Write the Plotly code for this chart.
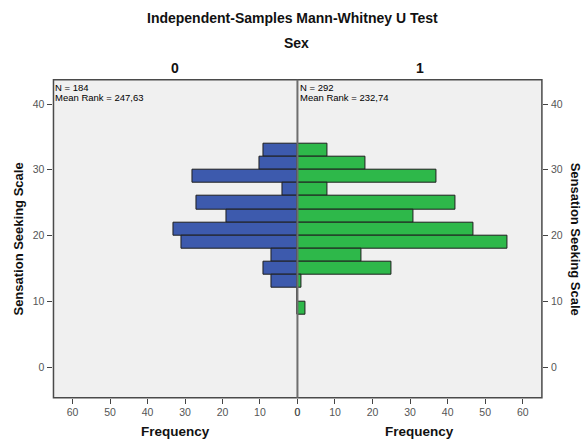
import plotly.graph_objects as go

# Bin centres of Sensation Seeking Scale (bin width 2)
bin_centers = [33, 31, 29, 27, 25, 23, 21, 19, 17, 15, 13, 11, 9]
freq_sex0 = [9, 10, 28, 4, 27, 19, 33, 31, 7, 9, 7, 0, 0]
freq_sex1 = [8, 18, 37, 8, 42, 31, 47, 56, 17, 25, 1, 0, 2]
bin_width = 2
x_ticks = [0, 10, 20, 30, 40, 50, 60]
y_ticks = [0, 10, 20, 30, 40]
group_labels = ["0", "1"]
group_n = ["N = 184", "N = 292"]
group_rank = ["Mean Rank = 247,63", "Mean Rank = 232,74"]

W, H = 584, 439
def px(x): return x / W
def py(y): return 1 - y / H

L, C, R = 51, 297.5, 544.5
T, B = 79.7, 397.7

FONT = "Liberation Sans, Arial, sans-serif"
BLUE = "#3D5AAD"
GREEN = "#2EB84A"

fig = go.Figure()
fig.add_trace(go.Bar(
    y=bin_centers, x=freq_sex0, orientation="h", width=bin_width,
    marker=dict(color=BLUE, line=dict(color="#1e1e1e", width=1)),
    xaxis="x", yaxis="y", showlegend=False))
fig.add_trace(go.Bar(
    y=bin_centers, x=freq_sex1, orientation="h", width=bin_width,
    marker=dict(color=GREEN, line=dict(color="#1e1e1e", width=1)),
    xaxis="x2", yaxis="y2", showlegend=False))

tickfont = dict(family=FONT, size=10.5, color="#555555")
xcommon = dict(range=[0, 65.1], tickvals=x_ticks, ticks="outside", ticklen=5,
               tickcolor="#444444", tickwidth=1, showgrid=False, zeroline=False,
               showline=False, tickfont=tickfont, fixedrange=True)
ycommon = dict(range=[-4.67, 43.7], tickvals=y_ticks, ticks="outside", ticklen=5,
               tickcolor="#444444", tickwidth=1, showgrid=False, zeroline=False,
               showline=False, tickfont=tickfont, domain=[py(B), py(T)], ticklabelstandoff=1)

fig.update_layout(
    width=W, height=H, autosize=False,
    margin=dict(l=0, r=0, t=0, b=0),
    paper_bgcolor="white", plot_bgcolor="#F0F0F0",
    bargap=0,
    xaxis=dict(domain=[px(L), px(C)], autorange=False, **{**xcommon, "range": [65.1, 0]}),
    xaxis2=dict(domain=[px(C), px(R)], anchor="y2", **xcommon),
    yaxis=dict(anchor="x", side="left", **ycommon),
    yaxis2=dict(anchor="x2", side="right", matches="y", **ycommon),
)

# frame and centre line
fig.add_shape(type="rect", xref="paper", yref="paper",
              x0=px(L), x1=px(R), y0=py(B), y1=py(T),
              line=dict(color="#4a4a4a", width=1.5), layer="above")
fig.add_shape(type="line", xref="paper", yref="paper",
              x0=px(C), x1=px(C), y0=py(B), y1=py(T),
              line=dict(color="#6e6e6e", width=2), layer="above")

bold = lambda s: "<b>" + s + "</b>"
ann = []
ann.append(dict(text=bold("Independent-Samples Mann-Whitney U Test"), x=px(292), y=py(18),
                font=dict(family=FONT, size=14, color="#111111")))
ann.append(dict(text=bold("Sex"), x=px(297), y=py(43),
                font=dict(family=FONT, size=14, color="#111111")))
for i, cx in enumerate([(L + C) / 2, (C + R) / 2]):
    ann.append(dict(text=bold(group_labels[i]), x=px(cx), y=py(68),
                    font=dict(family=FONT, size=14, color="#111111")))
    ann.append(dict(text=bold("Frequency"), x=px(cx), y=py(431),
                    font=dict(family=FONT, size=13.5, color="#111111")))
for i, lx in enumerate([L + 1, C + 1.5]):
    ann.append(dict(text=group_n[i], x=px(lx), y=py(87.5), xanchor="left",
                    font=dict(family=FONT, size=9.5, color="#000000")))
    ann.append(dict(text=group_rank[i], x=px(lx), y=py(97), xanchor="left",
                    font=dict(family=FONT, size=9.5, color="#000000")))
ann.append(dict(text=bold("Sensation Seeking Scale"), x=px(16), y=py(238.7), textangle=-90,
                font=dict(family=FONT, size=13, color="#111111")))
ann.append(dict(text=bold("Sensation Seeking Scale"), x=px(578), y=py(238.7), textangle=90,
                font=dict(family=FONT, size=13, color="#111111")))
for a in ann:
    a.setdefault("xanchor", "center")
    a.setdefault("yanchor", "middle")
    a.update(xref="paper", yref="paper", showarrow=False, borderpad=0)
    fig.add_annotation(**a)

fig.write_html("out.html", config={"displayModeBar": False})
